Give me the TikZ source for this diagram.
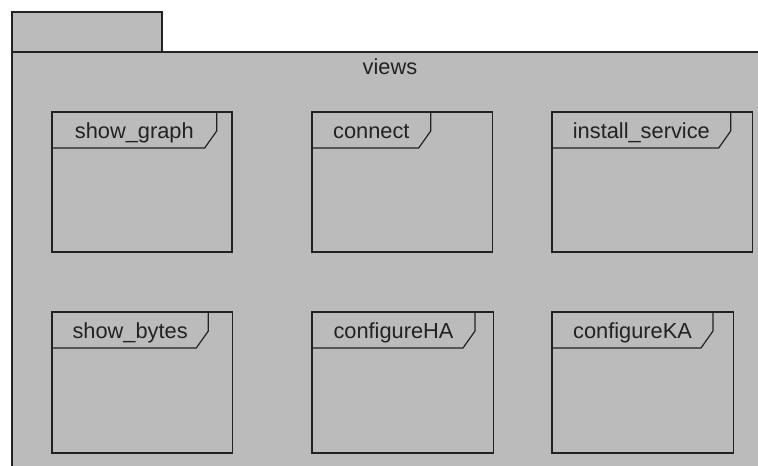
\documentclass[tikz,border=0pt]{standalone}
\usepackage{fontspec}
\setmainfont{Liberation Sans}
\definecolor{pkgfill}{HTML}{BBBBBB}
\definecolor{ink}{HTML}{222222}
\tikzset{
  outline/.style={draw=ink, line width=1.2bp},
  pkgpart/.style={outline, fill=pkgfill},
  framebox/.style={outline, rectangle, inner sep=0pt, outer sep=0pt, anchor=north west},
  lbl/.style={text=ink, inner sep=0pt, anchor=base, font=\fontsize{21.8bp}{24bp}\selectfont},
}
% #1 name, #2 left, #3 top, #4 right, #5 bottom, #6 x of the label-tab corner, #7 label
\newcommand\viewframe[7]{%
  \node[framebox, minimum width={#4bp-#2bp}, minimum height={#5bp-#3bp}] (#1) at (#2,#3) {};
  \draw[outline, line join=miter] (#1.north west) ++(0,36) -- ({#6-12},{#3+36}) -- (#6,{#3+19}) -- (#6,#3);
  \node[lbl] (#1-name) at ({(#2+#6)/2},{#3+26.3}) {#7};
}
\begin{document}
\begin{tikzpicture}[x=1bp,y=-1bp]
  \useasboundingbox (0,0) rectangle (758,466);
  \clip (0,0) rectangle (758,466);
  % package "views": tab and body (the body runs past the right and bottom edges)
  \node[pkgpart, rectangle, inner sep=0pt, outer sep=0pt, anchor=north west,
        minimum width=150bp, minimum height=40bp] (tab) at (12,12) {};
  \node[pkgpart, rectangle, inner sep=0pt, outer sep=0pt, anchor=north west,
        minimum width=780bp, minimum height=440bp] (views) at (12,52) {};
  \node[lbl] (views-name) at (390,75) {views};
  % first row
  \viewframe{showgraph}{52}{112}{232}{252}{216.7}{show\_graph}
  \viewframe{connect}{312}{112}{492.5}{252}{430.7}{connect}
  \viewframe{installservice}{552}{112}{752.3}{252}{730.7}{install\_service}
  % second row
  \viewframe{showbytes}{52}{312}{232.3}{453}{208.3}{show\_bytes}
  \viewframe{configureHA}{312}{312}{493.3}{453}{475}{configureHA}
  \viewframe{configureKA}{552}{312}{733.3}{453}{713}{configureKA}
\end{tikzpicture}
\end{document}
